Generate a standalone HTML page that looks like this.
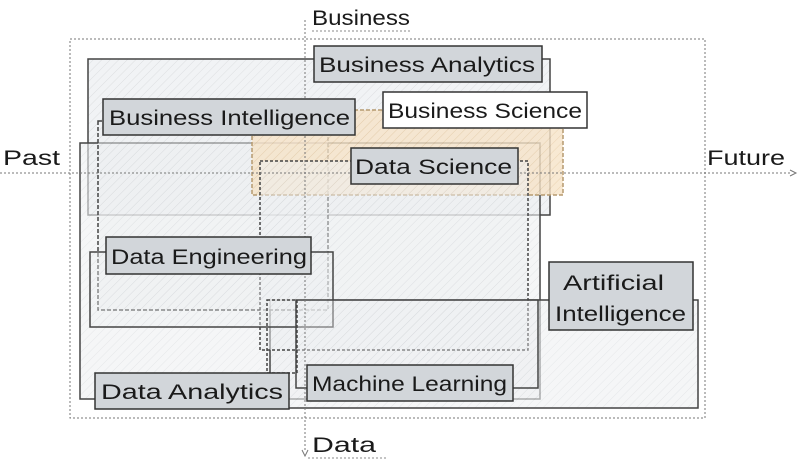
<!DOCTYPE html>
<html><head><meta charset="utf-8"><style>
html,body{margin:0;padding:0;background:#fff;}
svg{display:block}
text{font-family:"Liberation Sans",sans-serif;fill:#1a1a1a;}
</style></head><body>
<svg width="800" height="462" viewBox="0 0 800 462" xmlns="http://www.w3.org/2000/svg">
<defs>
<pattern id="h" width="6" height="6" patternUnits="userSpaceOnUse" patternTransform="rotate(45)">
<rect width="6" height="6" fill="#eef0f2"/><line x1="0" y1="0" x2="0" y2="6" stroke="#d4d7da" stroke-width="1"/>
</pattern>
<pattern id="o" width="6" height="6" patternUnits="userSpaceOnUse" patternTransform="rotate(45)">
<rect width="6" height="6" fill="#f6e3c8"/><line x1="0" y1="0" x2="0" y2="6" stroke="#e6c9a0" stroke-width="1"/>
</pattern>
</defs>
<!-- outer dotted -->
<rect x="70" y="39" width="635" height="379" fill="none" stroke="#777" stroke-dasharray="2,2"/>
<!-- regions -->
<g stroke="#444" stroke-width="1.5">
<rect x="88" y="59" width="462" height="156" fill="url(#h)" fill-opacity="0.8"/>
<rect x="80" y="143" width="460" height="256" fill="url(#h)" fill-opacity="0.6"/>
<rect x="270" y="300" width="428" height="108" fill="url(#h)" fill-opacity="0.6"/>
<rect x="98" y="121" width="230" height="189" fill="url(#h)" fill-opacity="0.5" stroke-dasharray="4,2"/>
<rect x="252" y="110" width="311" height="85" fill="url(#o)" fill-opacity="0.8" stroke="#b59a70" stroke-dasharray="4,2"/>
<rect x="260" y="161" width="268" height="189" fill="url(#h)" fill-opacity="0.5" stroke-dasharray="3,2"/>
<rect x="90" y="252" width="243" height="75" fill="url(#h)" fill-opacity="0.4"/>
<rect x="296" y="300" width="242" height="88" fill="url(#h)" fill-opacity="0.4"/>
<rect x="267" y="300" width="30" height="73" fill="none" stroke-dasharray="3,2"/>
</g>
<!-- axes -->
<line x1="0" y1="173" x2="792" y2="173" stroke="#777" stroke-dasharray="2,2"/>
<path d="M790,170 L796,173 L790,176" fill="none" stroke="#777"/>
<line x1="305" y1="20" x2="305" y2="452" stroke="#777" stroke-dasharray="2,2"/>
<path d="M302,450 L305,456 L308,450" fill="none" stroke="#777"/>
<text x="312" y="25" font-size="21" textLength="98" lengthAdjust="spacingAndGlyphs">Business</text>
<line x1="312" y1="31" x2="412" y2="31" stroke="#888" stroke-dasharray="2,2"/>
<text x="312" y="452" font-size="21" textLength="64" lengthAdjust="spacingAndGlyphs">Data</text>
<line x1="308" y1="458" x2="386" y2="458" stroke="#888" stroke-dasharray="2,2"/>
<text x="3" y="165" font-size="21" textLength="57" lengthAdjust="spacingAndGlyphs">Past</text>
<text x="707" y="165" font-size="21" textLength="78" lengthAdjust="spacingAndGlyphs">Future</text>
<!-- labels -->
<g stroke="#333" stroke-width="1.5" fill="#d2d6da">
<rect x="314" y="46" width="228" height="36"/>
<rect x="103" y="99" width="252" height="36"/>
<rect x="383" y="92" width="204" height="36" fill="#fff"/>
<rect x="351" y="148" width="167" height="36"/>
<rect x="106" y="237" width="205" height="37"/>
<rect x="549" y="262" width="144" height="68"/>
<rect x="95" y="373" width="194" height="36"/>
<rect x="307" y="365" width="206" height="36"/>
</g>
<g font-size="21">
<text x="319" y="72" textLength="216" lengthAdjust="spacingAndGlyphs">Business Analytics</text>
<text x="109" y="125" textLength="241" lengthAdjust="spacingAndGlyphs">Business Intelligence</text>
<text x="388" y="118" textLength="194" lengthAdjust="spacingAndGlyphs">Business Science</text>
<text x="355" y="174" textLength="157" lengthAdjust="spacingAndGlyphs">Data Science</text>
<text x="111" y="264" textLength="196" lengthAdjust="spacingAndGlyphs">Data Engineering</text>
<text x="563" y="290" textLength="101" lengthAdjust="spacingAndGlyphs">Artificial</text>
<text x="555" y="321" textLength="131" lengthAdjust="spacingAndGlyphs">Intelligence</text>
<text x="101" y="399" textLength="182" lengthAdjust="spacingAndGlyphs">Data Analytics</text>
<text x="312" y="391" textLength="195" lengthAdjust="spacingAndGlyphs">Machine Learning</text>
</g>
</svg>
</body></html>
